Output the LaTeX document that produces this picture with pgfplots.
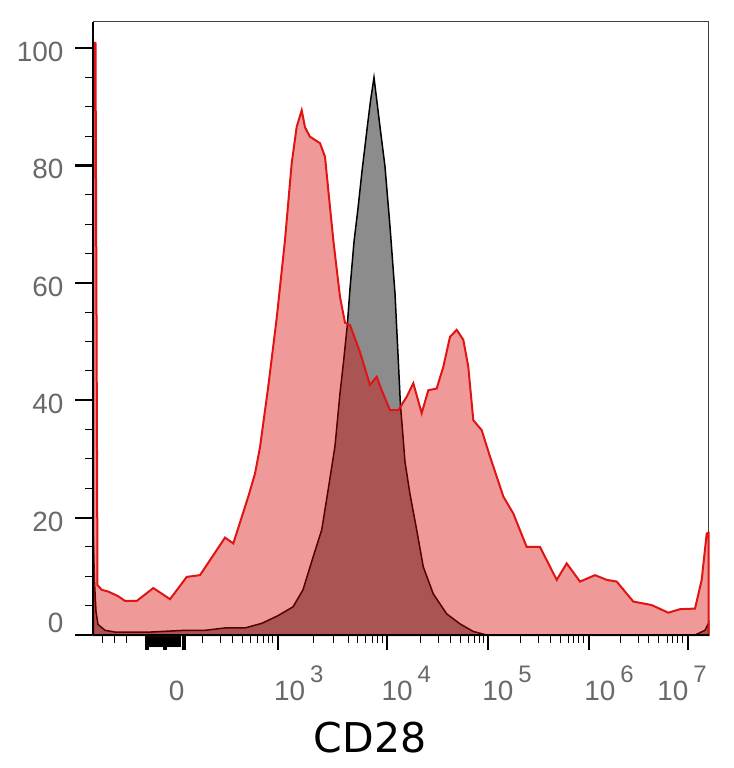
\documentclass[border=0pt]{standalone}
\usepackage{pgfplots}
\pgfplotsset{compat=1.18}
\usepackage{fontspec}
\setmainfont{Liberation Sans}
\newfontfamily\dejavu{DejaVu Sans}
\definecolor{lbl}{RGB}{105,105,105}
\definecolor{redfill}{RGB}{217,0,0}
\definecolor{redline}{RGB}{225,20,20}
\definecolor{greyfill}{RGB}{140,140,140}
\newcommand\tl{\fontsize{14}{14}\selectfont\color{lbl}}
\newcommand\pw[1]{10\hspace{2.5bp}\raisebox{9bp}{\fontsize{12}{12}\selectfont #1}}
\begin{document}
\begin{tikzpicture}
\path[use as bounding box] (-46.65bp,-66.5bp) rectangle (320.35bp,317.5bp);
\begin{axis}[
  scale only axis, width=307.6bp, height=306.65bp,
  xmin=93.3, xmax=708.5, ymin=0, ymax=104.5,
  clip=false,
  axis line style={line width=0.5bp, black!75},
  tick align=outside, xtick pos=bottom, ytick pos=left,
  tick style={black},
  major tick length=7.5bp, minor tick length=4bp,
  xtick={146,148,164,166,183,185,278.3,386.7,488.3,589.3,688.3},
  minor xtick={103,115,127,203,220,232,242,250,257,263,268,272,313,333,348,357,365,372,377,382,420,438,450,460,468,474,479,483,520,538,550,560,568,573,578,583,620,638,648,658,667,672,677,682},
  extra x ticks={150,151.5,153,154.5,156,157.5,159,160.5,162,168,169.5,171,172.5,174,175.5,177,178.5,180},
  extra x tick style={major tick length=6.2bp, tick style={line width=0.9bp}},
  extra x tick labels={},
  xticklabels={}, yticklabels={},
  ytick={0,20,40,60,80,100},
  minor ytick={5,10,15,25,30,35,45,50,55,65,70,75,85,90,95},
  extra y ticks={0,20,40,60,80,100},
  extra y tick style={major tick length=9bp, tick style={line width=1bp}},
  extra y tick labels={},
  major tick style={line width=1.1bp},
  minor tick style={line width=0.5bp},
  xlabel={CD28},
  xlabel style={at={(axis description cs:0.4498,0)}, anchor=base, yshift=-58.5bp, inner sep=0pt, font=\dejavu\fontsize{20.6}{20.6}\selectfont},
]
% control sample (grey)
\addplot[draw=black, line width=0.75bp, fill=greyfill] coordinates {
(93.3,16.5)(94.5,9)(96,4)(98,1.8)(105,0.8)(115,0.5)(150,0.5)(185,0.8)(205,0.8)(225,1.2)(245,1.2)(262,2.0)(278,3.3)(285,4.0)(293,4.8)(303,7.7)(313.3,13.4)(321.7,17.9)(328.3,24.9)(335,32.2)(340,41.2)(343.5,46.5)(347.3,52.8)(350,59)(354,67)(358,72.7)(362,79)(367.3,86.6)(370.5,91)(374,95)(380,86.6)(385,79.8)(390,69.6)(395,58.2)(398.3,46.8)(400.5,39)(402,36)(405,29.5)(410,24)(416.7,17.9)(423.3,11.6)(433.3,7.0)(446.7,3.6)(460,1.9)(473.3,0.6)(486.7,0)(695,0)(705,0.8)(708.5,2)
} \closedcycle;
% stained sample (red)
\addplot[draw=redline, line width=1bp, fill=redfill, fill opacity=0.4] coordinates {
(93.3,100.9)(95.5,100.9)(97.5,8.5)(101.7,7.7)(108.3,7.4)(118.3,6.6)(125,5.8)(136.7,5.8)(153.3,8.0)(170,6.1)(186.7,9.9)(200,10.2)(225,16.6)(233.3,15.6)(248.3,23.6)(255,27.5)(260,32)(264,37)(268,42)(272,47.5)(276.7,54)(285,67.3)(291.7,80.4)(296.7,86.6)(301.7,89.4)(305,86.5)(310,84.9)(320,83.8)(325,81.5)(328.3,75.8)(333.3,67.3)(340,57.6)(345,53.2)(350,52.8)(360,48.2)(370,42.6)(376.7,44.0)(381.7,41.7)(390,38.3)(398.3,38.3)(406.7,40.6)(413.3,42.9)(421.7,37.8)(428.3,41.7)(436.7,42.0)(443.3,45.7)(450,50.8)(456.7,52.0)(463.3,50.3)(468.3,45.7)(473.3,36.6)(481.7,34.9)(490,30.4)(503.3,23.6)(513.3,20.7)(526.7,15.0)(540,15.0)(556.7,9.4)(566.7,12.2)(580,9.1)(595,10.2)(606.7,9.4)(616.7,9.1)(633.3,5.7)(651.7,5.1)(668.3,3.8)(680,4.4)(695,4.5)(701.7,9.4)(706.7,17.3)(708.5,17.4)
} \closedcycle;
\draw[black, line width=1bp] (rel axis cs:0,0) -- (rel axis cs:1,0);
\draw[black, line width=0.8bp] (rel axis cs:0,0) -- (rel axis cs:0,1);
% y tick labels
\node[anchor=base east, inner sep=0pt, xshift=-14.7bp, yshift=-6.7bp] at (axis cs:93.3,100) {\tl 100};
\node[anchor=base east, inner sep=0pt, xshift=-14.7bp, yshift=-6.7bp] at (axis cs:93.3,80) {\tl 80};
\node[anchor=base east, inner sep=0pt, xshift=-14.7bp, yshift=-6.7bp] at (axis cs:93.3,60) {\tl 60};
\node[anchor=base east, inner sep=0pt, xshift=-14.7bp, yshift=-6.7bp] at (axis cs:93.3,40) {\tl 40};
\node[anchor=base east, inner sep=0pt, xshift=-14.7bp, yshift=-6.7bp] at (axis cs:93.3,20) {\tl 20};
\node[anchor=base east, inner sep=0pt, xshift=-14.7bp, yshift=1.5bp] at (axis cs:93.3,0) {\tl 0};
% x tick labels
\node[anchor=base, inner sep=0pt, yshift=-32.5bp] at (axis cs:176.7,0) {\tl 0};
\node[anchor=base west, inner sep=0pt, yshift=-32.5bp] at (axis cs:273.7,0) {\tl\pw{3}};
\node[anchor=base west, inner sep=0pt, yshift=-32.5bp] at (axis cs:381.3,0) {\tl\pw{4}};
\node[anchor=base west, inner sep=0pt, yshift=-32.5bp] at (axis cs:482,0) {\tl\pw{5}};
\node[anchor=base west, inner sep=0pt, yshift=-32.5bp] at (axis cs:584,0) {\tl\pw{6}};
\node[anchor=base west, inner sep=0pt, yshift=-32.5bp] at (axis cs:657,0) {\tl\pw{7}};
\end{axis}
\end{tikzpicture}
\end{document}
